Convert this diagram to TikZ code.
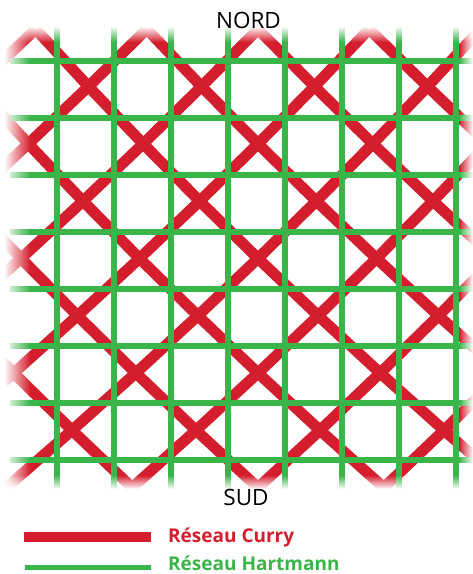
\documentclass[tikz,border=0pt]{standalone}
\usepackage{fontspec}
\setmainfont{Open Sans}
\definecolor{curry}{RGB}{213,30,45}
\definecolor{hart}{RGB}{57,181,74}
\begin{document}
\begin{tikzpicture}[x=1pt,y=-1pt,
  greenline/.style={hart, line width=5.2pt},
  redline/.style={curry, line width=11pt, line join=round},
  lbl/.style={inner sep=0pt, anchor=base west},
  cardinal/.style={inner sep=0pt, anchor=base, font=\fontsize{22.5}{22.5}\selectfont}]
\useasboundingbox (0,0) rectangle (473,574);
% Curry network (red diagonals)
\begin{scope}
  \clip (4,27) rectangle (473,491);
  \foreach \d in {-10,-8,...,10}
    \draw[redline] plot[domain=-1:7,samples=9]
      ({258+(\d+\x-3)*(56.5+0.9167*\x)},{86.5+57.3*\x});
  \foreach \s in {-4,-2,...,18}
    \draw[redline] plot[domain=-1:7,samples=9]
      ({258+(\s-\x-3)*(56.5+0.9167*\x)},{86.5+57.3*\x});
\end{scope}
% Hartmann network (green grid)
\foreach \k in {1,...,8}
  \draw[greenline] (57*\k,26) -- (57*\k,492);
\foreach \k in {0,...,7}
  \draw[greenline] (10,61+57*\k) -- (473,61+57*\k);
% soft edges
\foreach \i [evaluate=\i as \op using 1-\i/16] in {0,...,15}
  \fill[white,opacity=\op] (0,26+\i) rectangle (473,27+\i);
\foreach \i [evaluate=\i as \op using (\i+1)/14] in {0,...,13}
  \fill[white,opacity=\op] (0,476+\i) rectangle (473,477+\i);
\fill[white] (0,489.5) rectangle (473,496);
\foreach \i [evaluate=\i as \op using 1-\i/26] in {0,...,25}
  \fill[white,opacity=\op] (4+\i,26) rectangle (5+\i,494);
\foreach \i [evaluate=\i as \op using (\i+1)/14] in {0,...,12}
  \fill[white,opacity=\op] (460+\i,26) rectangle (461+\i,494);
% labels
\node[cardinal] (nord) at (248.5,28) {NORD};
\node[cardinal] (sud) at (246,505) {SUD};
% legend
\fill[curry] (24,532) rectangle (151,542);
\fill[hart] (25,564.5) rectangle (151,570);
\node[lbl,curry] (lc) at (168,542.3) {\fontsize{19}{19}\selectfont\bfseries Réseau Curry};
\node[lbl,hart] (lh) at (168,570.5) {\fontsize{19}{19}\selectfont\bfseries Réseau Hartmann};
\end{tikzpicture}
\end{document}
